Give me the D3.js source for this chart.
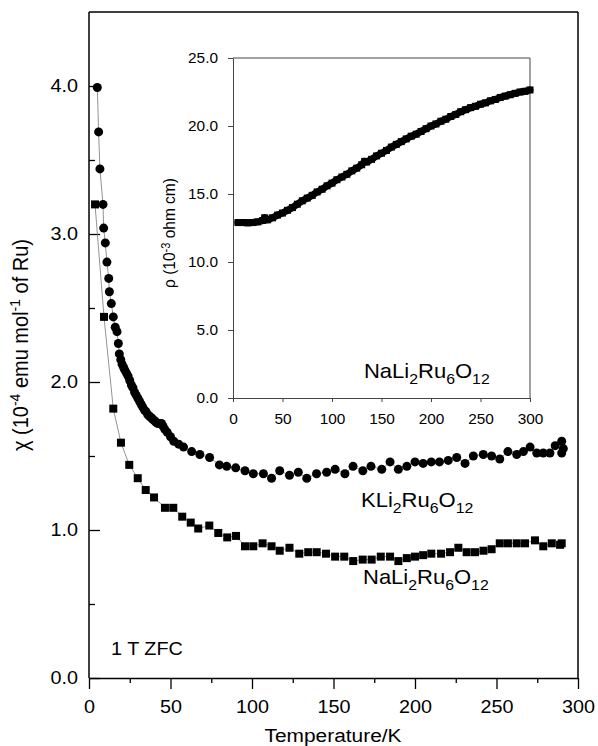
<!DOCTYPE html>
<html>
<head>
<meta charset="utf-8">
<script src="https://cdn.jsdelivr.net/npm/d3@7/dist/d3.min.js"></script>
<style>
  body { margin: 0; background: #fff; }
  svg { display: block; }
  text { font-family: "Liberation Sans", Arial, Helvetica, sans-serif; fill: #000; }
</style>
</head>
<body>
<svg id="chart" width="598" height="746"></svg>
<script>
// KLi2Ru6O12 susceptibility (T in K, chi in 1e-4 emu/mol Ru)
const kliT = [5.1, 5.9, 6.7, 8.6, 9.0, 10.0, 11.0, 12.1, 12.5, 13.7, 14.9, 16.1, 17.2, 18.0, 18.6,
  19.5, 20.3, 21.2, 22.0, 23.0, 24.0, 25.0, 26.0, 27.0, 28.0, 29.0, 30.0, 31.0, 32.0, 33.0, 34.0,
  35.0, 36.0, 37.0, 38.0, 39.0, 40.0, 41.0, 42.0, 43.0, 44.5, 45.5, 46.5, 48.0, 50.0, 52.0, 55.0,
  58.0, 63.0, 68.0, 74.0, 80.0, 84.5, 90.0, 95.7, 100.8, 107.0, 112.0, 117.0, 123.0, 128.4, 133.6,
  139.6, 145.8, 151.0, 157.0, 162.0, 168.0, 173.0, 179.6, 184.7, 189.8, 195.0, 200.0, 205.0, 210.0,
  215.0, 220.4, 225.6, 230.7, 235.8, 241.9, 247.0, 252.0, 257.0, 262.4, 266.5, 270.6, 274.7, 278.7,
  282.8, 286.0, 290.0, 290.0, 291.0];
const kliChi = [3.99, 3.69, 3.44, 3.20, 3.04, 2.94, 2.81, 2.70, 2.61, 2.53, 2.44, 2.37, 2.34, 2.26, 2.19,
  2.15, 2.12, 2.10, 2.08, 2.06, 2.04, 2.01, 1.98, 1.96, 1.93, 1.91, 1.89, 1.87, 1.85, 1.83, 1.81,
  1.80, 1.78, 1.77, 1.76, 1.75, 1.74, 1.73, 1.72, 1.72, 1.72, 1.70, 1.68, 1.66, 1.63, 1.60, 1.58,
  1.56, 1.53, 1.51, 1.49, 1.44, 1.43, 1.42, 1.40, 1.38, 1.38, 1.35, 1.40, 1.37, 1.39, 1.35,
  1.38, 1.39, 1.41, 1.38, 1.43, 1.40, 1.43, 1.41, 1.46, 1.41, 1.43, 1.46, 1.45, 1.46,
  1.46, 1.47, 1.49, 1.45, 1.50, 1.51, 1.50, 1.48, 1.53, 1.51, 1.53, 1.56, 1.52, 1.52,
  1.52, 1.57, 1.60, 1.52, 1.55];

// NaLi2Ru6O12 susceptibility
const naliT = [3.7, 9.2, 14.9, 19.6, 24.7, 29.9, 34.8, 39.9, 46.6, 51.7, 57.2, 62.4, 67.0, 73.8, 79.3,
  84.8, 90.2, 95.7, 100.8, 106.5, 112.0, 117.0, 123.0, 129.0, 134.5, 139.7, 145.4, 151.0, 156.6,
  162.1, 167.9, 173.4, 179.0, 184.7, 189.8, 195.0, 200.0, 205.0, 210.0, 216.0, 221.5, 226.6, 231.7,
  236.8, 242.0, 247.0, 252.0, 257.0, 262.4, 267.5, 273.6, 278.7, 283.9, 289.0, 290.0];
const naliChi = [3.20, 2.44, 1.82, 1.59, 1.44, 1.35, 1.27, 1.22, 1.15, 1.15, 1.09, 1.05, 1.01, 1.03, 0.98,
  0.95, 0.96, 0.89, 0.89, 0.91, 0.89, 0.86, 0.88, 0.84, 0.85, 0.85, 0.84, 0.82, 0.82,
  0.79, 0.80, 0.80, 0.82, 0.82, 0.79, 0.81, 0.82, 0.83, 0.84, 0.84, 0.85, 0.88, 0.85,
  0.85, 0.86, 0.87, 0.91, 0.91, 0.91, 0.91, 0.93, 0.89, 0.91, 0.90, 0.91];

// NaLi2Ru6O12 resistivity (inset, 1e-3 ohm cm)
const rhoT = [5, 10, 15, 20, 25, 30, 32, 35, 40, 45, 50, 55, 60, 65, 70, 75, 80, 85, 90, 95, 100,
  105, 110, 115, 120, 125, 130, 133, 135, 140, 145, 150, 155, 160, 165, 170, 175, 180, 185, 190,
  195, 200, 205, 210, 215, 220, 225, 230, 235, 240, 245, 250, 255, 260, 265, 270, 275, 280, 285,
  290, 295, 300];
const rhoVal = [12.9, 12.9, 12.88, 12.9, 12.95, 13.05, 13.25, 13.1, 13.25, 13.45, 13.6, 13.8, 14.0,
  14.25, 14.5, 14.7, 14.9, 15.15, 15.35, 15.6, 15.8, 16.05, 16.25, 16.45, 16.7, 16.9, 17.15, 17.4,
  17.35, 17.55, 17.8, 18.0, 18.2, 18.45, 18.65, 18.85, 19.05, 19.25, 19.4, 19.6, 19.8, 20.0, 20.15,
  20.35, 20.5, 20.7, 20.85, 21.05, 21.2, 21.35, 21.45, 21.6, 21.7, 21.85, 21.95, 22.1, 22.2, 22.3,
  22.4, 22.5, 22.55, 22.65];

// Tick values
const mainXTicks = [0, 50, 100, 150, 200, 250, 300];
const mainXMinor = [25, 75, 125, 175, 225, 275];
const mainYTicks = [0, 1, 2, 3, 4];
const mainYMinor = [0.5, 1.5, 2.5, 3.5];
const insetXTicks = [0, 50, 100, 150, 200, 250, 300];
const insetYTicks = [0, 5, 10, 15, 20, 25];

const svg = d3.select("#chart");
const SX = 1.1; // horizontal glyph stretch

function stretch(sel) {
  sel.each(function () {
    const t = d3.select(this);
    const x = +(t.attr("x") || 0);
    const prev = t.attr("transform") || "";
    t.attr("transform", `${prev} translate(${x},0) scale(${SX},1) translate(${-x},0)`);
  });
}

// chemical formula with subscript digits
function formula(g, x, y, size, str) {
  const t = g.append("text").attr("x", x).attr("y", y).style("font-size", size + "px");
  const parts = str.match(/\d+|\D+/g);
  let sub = false;
  parts.forEach(p => {
    const isDigit = /\d/.test(p);
    const ts = t.append("tspan").text(p);
    if (isDigit && !sub) { ts.attr("dy", size * 0.28).style("font-size", (size * 0.72) + "px"); sub = true; }
    else if (isDigit) { ts.style("font-size", (size * 0.72) + "px"); }
    else if (sub) { ts.attr("dy", -size * 0.28); sub = false; }
  });
  stretch(t);
  return t;
}

// ---------- main panel ----------
const x = d3.scaleLinear().domain([0, 300]).range([89, 578]);
const y = d3.scaleLinear().domain([0, 4.5]).range([678, 12]);

const main = svg.append("g");

// frame top/right
main.append("line").attr("x1", x(0)).attr("x2", x(300)).attr("y1", y(4.5)).attr("y2", y(4.5))
  .attr("stroke", "#000").attr("stroke-width", 1.5);
main.append("line").attr("x1", x(300)).attr("x2", x(300)).attr("y1", y(4.5)).attr("y2", y(0))
  .attr("stroke", "#000").attr("stroke-width", 1.5);

const xAxis = main.append("g").attr("transform", `translate(0,${y(0)})`)
  .call(d3.axisBottom(x).tickValues(mainXTicks).tickSize(11).tickPadding(11).tickSizeOuter(0)
    .tickFormat(d3.format("d")));
main.append("g").attr("transform", `translate(0,${y(0)})`)
  .call(d3.axisBottom(x).tickValues(mainXMinor).tickSize(5).tickSizeOuter(0).tickFormat(""))
  .call(g => g.select(".domain").remove());

const yAxis = main.append("g").attr("transform", `translate(${x(0)},0)`)
  .call(d3.axisLeft(y).tickValues(mainYTicks).tickSize(-11).tickPadding(11).tickSizeOuter(0)
    .tickFormat(d3.format(".1f")));
main.append("g").attr("transform", `translate(${x(0)},0)`)
  .call(d3.axisLeft(y).tickValues(mainYMinor).tickSize(-6).tickSizeOuter(0).tickFormat(""))
  .call(g => g.select(".domain").remove());

main.selectAll(".domain").attr("stroke-width", 1.5);
main.selectAll(".tick line").attr("stroke-width", 1.3);
[xAxis, yAxis].forEach(a => a.selectAll("text").style("font-size", "18px")
  .style("font-family", '"Liberation Sans", Arial, sans-serif').call(stretch));
yAxis.select(".domain").attr("d", `M0,${y(0)}V${y(4.5)}`);

// axis titles
const xt = main.append("text").attr("x", 333).attr("y", 742).attr("text-anchor", "middle")
  .style("font-size", "19px").text("Temperature/K");
stretch(xt);

const yt = main.append("text").attr("transform", "translate(28,345) rotate(-90) scale(1,1.1)")
  .attr("text-anchor", "middle").style("font-size", "20px");
yt.append("tspan").text("χ (10");
yt.append("tspan").attr("dy", -7).style("font-size", "14px").text("-4");
yt.append("tspan").attr("dy", 7).text(" emu mol");
yt.append("tspan").attr("dy", -7).style("font-size", "14px").text("-1");
yt.append("tspan").attr("dy", 7).text(" of Ru)");

// connecting lines
const lineGen = d3.line().x(d => x(d[0])).y(d => y(d[1]));
const kli = kliT.map((t, i) => [t, kliChi[i]]);
const nali = naliT.map((t, i) => [t, naliChi[i]]);

main.append("path").datum(nali).attr("d", lineGen).attr("fill", "none")
  .attr("stroke", "#777").attr("stroke-width", 0.8);
main.append("path").datum(kli).attr("d", lineGen).attr("fill", "none")
  .attr("stroke", "#777").attr("stroke-width", 0.8);

// markers
const sq = 8;
main.append("g").selectAll("rect").data(nali).join("rect")
  .attr("x", d => x(d[0]) - sq / 2).attr("y", d => y(d[1]) - sq / 2)
  .attr("width", sq).attr("height", sq).attr("fill", "#000");
main.append("g").selectAll("circle").data(kli).join("circle")
  .attr("cx", d => x(d[0])).attr("cy", d => y(d[1])).attr("r", 4.5).attr("fill", "#000");

// labels
formula(main, 361, 507, 20, "KLi2Ru6O12");
formula(main, 363, 584, 20, "NaLi2Ru6O12");
const zfc = main.append("text").attr("x", 111).attr("y", 655).style("font-size", "18px").text("1 T ZFC");
stretch(zfc);

// ---------- inset ----------
const xi = d3.scaleLinear().domain([0, 300]).range([233, 530]);
const yi = d3.scaleLinear().domain([0, 25]).range([398, 58]);
const inset = svg.append("g");

inset.append("line").attr("x1", xi(0)).attr("x2", xi(300)).attr("y1", yi(25)).attr("y2", yi(25))
  .attr("stroke", "#444").attr("stroke-width", 1);
inset.append("line").attr("x1", xi(300)).attr("x2", xi(300)).attr("y1", yi(25)).attr("y2", yi(0))
  .attr("stroke", "#444").attr("stroke-width", 1);

const xiAxis = inset.append("g").attr("transform", `translate(0,${yi(0)})`)
  .call(d3.axisBottom(xi).tickValues(insetXTicks).tickSize(4).tickPadding(12).tickSizeOuter(0)
    .tickFormat(d3.format("d")));
const yiAxis = inset.append("g").attr("transform", `translate(${xi(0)},0)`)
  .call(d3.axisLeft(yi).tickValues(insetYTicks).tickSize(5).tickPadding(10).tickSizeOuter(0)
    .tickFormat(d3.format(".1f")));
inset.selectAll(".domain, .tick line").attr("stroke", "#444").attr("stroke-width", 1);
[xiAxis, yiAxis].forEach(a => a.selectAll("text").style("font-size", "14px")
  .style("font-family", '"Liberation Sans", Arial, sans-serif').call(stretch));

const yit = inset.append("text").attr("transform", "translate(175,233) rotate(-90) scale(1,1.1)")
  .attr("text-anchor", "middle").style("font-size", "15.5px");
yit.append("tspan").text("ρ (10");
yit.append("tspan").attr("dy", -5).style("font-size", "11px").text("-3");
yit.append("tspan").attr("dy", 5).text(" ohm cm)");

const rho = rhoT.map((t, i) => [t, rhoVal[i]]);
const lineI = d3.line().x(d => xi(d[0])).y(d => yi(d[1]));
inset.append("path").datum(rho).attr("d", lineI).attr("fill", "none")
  .attr("stroke", "#000").attr("stroke-width", 7).attr("stroke-linejoin", "round")
  .attr("stroke-linecap", "round");
const sqi = 7;
inset.append("g").selectAll("rect").data(rho).join("rect")
  .attr("x", d => xi(d[0]) - sqi / 2).attr("y", d => yi(d[1]) - sqi / 2)
  .attr("width", sqi).attr("height", sqi).attr("fill", "#000");

formula(inset, 364, 378, 20, "NaLi2Ru6O12");
</script>
</body>
</html>
